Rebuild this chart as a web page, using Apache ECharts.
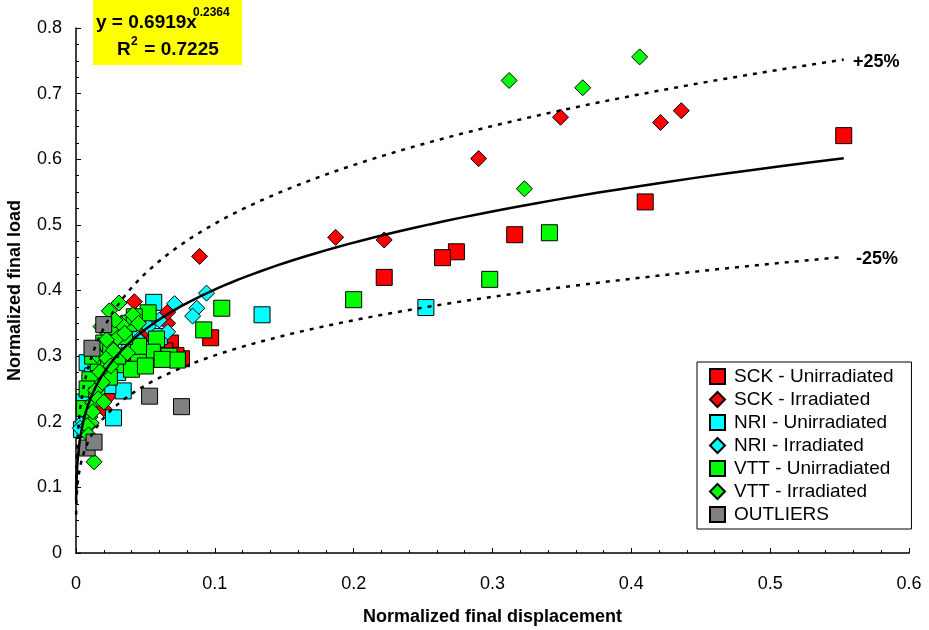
<!DOCTYPE html>
<html><head><meta charset="utf-8">
<script src="https://cdn.jsdelivr.net/npm/echarts@6/dist/echarts.min.js"></script>
<style>html,body{margin:0;padding:0;background:#fff}#c{width:929px;height:630px}</style>
</head><body><div id="c"></div>
<script>
var sckUnirr = [[0.553,0.636],[0.410,0.535],[0.316,0.485],[0.274,0.459],[0.264,0.450],[0.222,0.420],[0.097,0.328],[0.076,0.296],[0.068,0.320],[0.072,0.301],[0.064,0.308],[0.050,0.336],[0.041,0.300],[0.030,0.285],[0.018,0.262],[0.055,0.295]];
var sckIrr = [[0.436,0.674],[0.421,0.656],[0.349,0.664],[0.290,0.601],[0.222,0.477],[0.187,0.481],[0.089,0.452],[0.042,0.383],[0.066,0.350],[0.066,0.367],[0.050,0.340],[0.034,0.300],[0.024,0.240],[0.020,0.220],[0.028,0.270]];
var nriUnirr = [[0.252,0.374],[0.134,0.363],[0.056,0.382],[0.027,0.206],[0.034,0.247],[0.023,0.255],[0.008,0.290],[0.004,0.188],[0.066,0.300],[0.060,0.330],[0.048,0.310],[0.040,0.335],[0.012,0.270],[0.016,0.310],[0.030,0.275],[0.006,0.230],[0.045,0.355],[0.020,0.300]];
var nriIrr = [[0.094,0.396],[0.087,0.373],[0.084,0.361],[0.071,0.380],[0.066,0.337],[0.060,0.355],[0.052,0.345],[0.045,0.325],[0.038,0.315],[0.030,0.295],[0.022,0.265],[0.015,0.240],[0.010,0.215],[0.005,0.200],[0.003,0.190]];
var vttUnirr = [[0.341,0.488],[0.298,0.417],[0.200,0.386],[0.105,0.373],[0.092,0.340],[0.058,0.326],[0.067,0.300],[0.073,0.294],[0.055,0.306],[0.052,0.366],[0.045,0.294],[0.032,0.287],[0.016,0.290],[0.010,0.264],[0.024,0.268],[0.040,0.280],[0.045,0.315],[0.035,0.330],[0.028,0.345],[0.020,0.320],[0.012,0.300],[0.008,0.250],[0.006,0.220],[0.030,0.300],[0.038,0.350],[0.050,0.285],[0.062,0.295],[0.015,0.240],[0.025,0.310],[0.042,0.360]];
var vttIrr = [[0.406,0.756],[0.312,0.720],[0.365,0.709],[0.323,0.555],[0.031,0.381],[0.024,0.369],[0.041,0.363],[0.033,0.348],[0.030,0.328],[0.022,0.325],[0.015,0.302],[0.022,0.297],[0.017,0.276],[0.014,0.248],[0.012,0.229],[0.010,0.207],[0.011,0.198],[0.013,0.139],[0.008,0.194],[0.027,0.309],[0.037,0.305],[0.019,0.260],[0.016,0.235],[0.025,0.285],[0.035,0.335],[0.045,0.350],[0.028,0.355],[0.018,0.345],[0.012,0.215],[0.020,0.230],[0.009,0.180]];
var outliers = [[0.020,0.348],[0.0115,0.312],[0.008,0.160],[0.013,0.169],[0.053,0.239],[0.076,0.223]];
var seriesNames = ['SCK - Unirradiated','SCK - Irradiated','NRI - Unirradiated','NRI - Irradiated','VTT - Unirradiated','VTT - Irradiated','OUTLIERS'];
var xTicks = [0,0.1,0.2,0.3,0.4,0.5,0.6];
var yTicks = [0,0.1,0.2,0.3,0.4,0.5,0.6,0.7,0.8];
// fitted power law shown in the chart: y = 0.6919 x^0.2364 , bands ±25%
var fitA = 0.6919, fitB = 0.2364, fitXmax = 0.553, bandFactors = [1.25, 0.75];

function curve(f){
  var pts=[]; var x0=0.0001, n=200;
  for(var i=0;i<=n;i++){ var x=x0*Math.pow(fitXmax/x0,i/n); pts.push([x,f*fitA*Math.pow(x,fitB)]); }
  return pts;
}
var FONT='"Liberation Sans", Arial, sans-serif';
function sc(name,data,color,sym){
  return {name:name,type:'scatter',data:data,symbol:sym,symbolSize:16,
    itemStyle:{color:color,borderColor:'#000',borderWidth:1,opacity:1},z:3,
    emphasis:{disabled:true}};
}
var chart=echarts.init(document.getElementById('c'),null,{renderer:'canvas'});
chart.setOption({
  animation:false,
  textStyle:{fontFamily:FONT,color:'#000'},
  grid:{left:76,right:20,top:28,bottom:77,containLabel:false,outerBoundsMode:'none'},
  xAxis:{type:'value',min:0,max:0.6,interval:0.1,
    name:'Normalized final displacement',nameLocation:'middle',nameGap:55,
    nameTextStyle:{fontFamily:FONT,fontWeight:'bold',fontSize:18,color:'#000'},
    axisLine:{show:true,onZero:false,lineStyle:{color:'#000',width:1.5}},
    axisTick:{show:true,inside:true,length:5,lineStyle:{color:'#000'}},
    minorTick:{show:true,splitNumber:5,length:3,lineStyle:{color:'#000'}},
    splitLine:{show:false},
    axisLabel:{fontFamily:FONT,fontSize:18,color:'#000',margin:22,formatter:function(v){return String(+v.toFixed(1));}}},
  yAxis:{type:'value',min:0,max:0.8,interval:0.1,
    name:'Normalized final load',nameLocation:'middle',nameGap:52,
    nameTextStyle:{fontFamily:FONT,fontWeight:'bold',fontSize:18,color:'#000'},
    axisLine:{show:true,onZero:false,lineStyle:{color:'#000',width:1.5}},
    axisTick:{show:true,inside:true,length:5,lineStyle:{color:'#000'}},
    minorTick:{show:true,splitNumber:4,length:3,lineStyle:{color:'#000'}},
    splitLine:{show:false},
    axisLabel:{fontFamily:FONT,fontSize:18,color:'#000',margin:14,formatter:function(v){return String(+v.toFixed(1));}}},
  legend:{orient:'vertical',left:697,top:362,itemGap:4,itemWidth:15,itemHeight:15,
    padding:[5,18,5,12],borderColor:'#000',borderWidth:1,backgroundColor:'#fff',
    textStyle:{fontFamily:FONT,fontSize:19,color:'#000',padding:[0,0,0,4]},
    data:seriesNames,selectedMode:false},
  graphic:[
    {type:'rect',left:93,top:0,shape:{width:149,height:65},style:{fill:'#ffff00'},z:10},
    {type:'text',left:96,top:13,style:{text:'y = 0.6919x',fontFamily:FONT,fontWeight:'bold',fontSize:19,fill:'#000'},z:11},
    {type:'text',left:193,top:7,style:{text:'0.2364',fontFamily:FONT,fontWeight:'bold',fontSize:12,fill:'#000'},z:11},
    {type:'text',left:117,top:40,style:{text:'R',fontFamily:FONT,fontWeight:'bold',fontSize:19,fill:'#000'},z:11},
    {type:'text',left:131,top:36,style:{text:'2',fontFamily:FONT,fontWeight:'bold',fontSize:12,fill:'#000'},z:11},
    {type:'text',left:139,top:40,style:{text:' = 0.7225',fontFamily:FONT,fontWeight:'bold',fontSize:19,fill:'#000'},z:11},
    {type:'text',left:853,top:53,style:{text:'+25%',fontFamily:FONT,fontWeight:'bold',fontSize:18,fill:'#000'},z:11},
    {type:'text',left:856,top:250,style:{text:'-25%',fontFamily:FONT,fontWeight:'bold',fontSize:18,fill:'#000'},z:11}
  ],
  series:[
    sc(seriesNames[0],sckUnirr,'#ff0000','rect'),
    sc(seriesNames[1],sckIrr,'#ff0000','diamond'),
    sc(seriesNames[2],nriUnirr,'#00ffff','rect'),
    sc(seriesNames[3],nriIrr,'#00ffff','diamond'),
    sc(seriesNames[4],vttUnirr,'#00ff00','rect'),
    sc(seriesNames[5],vttIrr,'#00ff00','diamond'),
    sc(seriesNames[6],outliers,'#808080','rect'),
    {name:'fit',type:'line',data:curve(1),showSymbol:false,symbol:'none',z:5,lineStyle:{color:'#000',width:2.5},silent:true},
    {name:'up',type:'line',data:curve(bandFactors[0]),showSymbol:false,symbol:'none',z:5,lineStyle:{color:'#000',width:2.5,type:[4,6]},silent:true},
    {name:'lo',type:'line',data:curve(bandFactors[1]),showSymbol:false,symbol:'none',z:5,lineStyle:{color:'#000',width:2.5,type:[4,6]},silent:true}
  ]
});
</script></body></html>
